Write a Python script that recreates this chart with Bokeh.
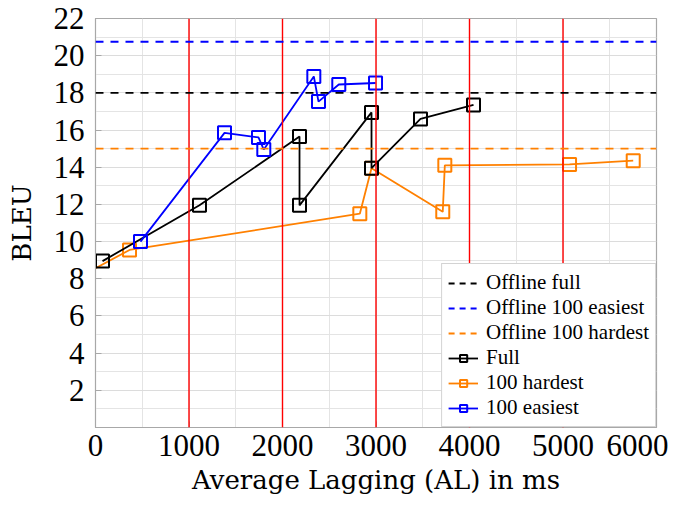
import math
from bokeh.plotting import figure
from bokeh.models import FixedTicker, Legend, LegendItem, ColumnDataSource, Range1d, Span
from bokeh.embed import file_html
from bokeh.resources import INLINE

# ---- data ----
full_al = [75, 1112, 2182, 2182, 2952, 2952, 3476, 4043]
full_bleu = [8.95, 11.95, 15.65, 11.95, 16.95, 13.95, 16.6, 17.35]

hard_al = [-250, 364, 2827, 2952, 3714, 3736, 5070, 5751]
hard_bleu = [7.9, 9.55, 11.5, 13.95, 11.6, 14.1, 14.15, 14.35]

easy_al = [481, 1380, 1743, 1800, 2335, 2385, 2602, 2995]
easy_bleu = [10.0, 15.85, 15.6, 14.95, 18.88, 17.53, 18.45, 18.53]

offline_full = 18.0
offline_easy = 20.75
offline_hard = 15.0

red_marks = [1000, 2000, 3000, 4000, 5000]

x_ticks = [0, 1000, 2000, 3000, 4000, 5000, 6000]
x_minor = [500, 1500, 2500, 3500, 4500, 5500]
y_ticks = [2, 4, 6, 8, 10, 12, 14, 16, 18, 20, 22]
y_minor = [1, 3, 5, 7, 9, 11, 13, 15, 17, 19, 21]

BLACK = "#000000"
ORANGE = "#ff8000"
BLUE = "#0000ff"
RED = "#ff0000"
TICKFONT = "Liberation Serif"
LABELFONT = "DejaVu Serif"
DASH = "8 7"
LW = 1.8

p = figure(frame_width=561, frame_height=409, min_border_left=95, min_border_right=12,
           min_border_top=18, min_border_bottom=64, output_backend="svg",
           toolbar_location=None, x_range=Range1d(0, 6000), y_range=Range1d(0, 22))

p.background_fill_color = "white"
p.border_fill_color = "white"
p.outline_line_color = "#a8a8a8"
p.outline_line_width = 1.2

p.xaxis.ticker = FixedTicker(ticks=x_ticks, minor_ticks=x_minor)
p.yaxis.ticker = FixedTicker(ticks=y_ticks, minor_ticks=y_minor)
p.xgrid.ticker = p.xaxis.ticker
p.ygrid.ticker = p.yaxis.ticker
for g in (p.xgrid, p.ygrid):
    g.grid_line_color = "#dcdcdc"
    g.grid_line_width = 1
    g.minor_grid_line_color = "#e4e4e4"
    g.minor_grid_line_width = 1

for ax in (p.xaxis, p.yaxis):
    ax.axis_line_color = "#a8a8a8"
    ax.major_tick_in = 6
    ax.major_tick_out = 0
    ax.minor_tick_in = 0
    ax.minor_tick_out = 0
    ax.major_tick_line_color = "#a8a8a8"
    ax.major_label_text_font = TICKFONT
    ax.major_label_text_font_size = "31px"
    ax.major_label_text_color = "black"
    ax.axis_label_text_font = LABELFONT
    ax.axis_label_text_font_size = "26px"
    ax.axis_label_text_font_style = "normal"
    ax.axis_label_text_color = "black"

p.xaxis.axis_label = "Average Lagging (AL) in ms"
p.yaxis.axis_label = "BLEU"
p.xaxis.major_label_standoff = 7
p.yaxis.major_label_standoff = 11
p.xaxis.axis_label_standoff = 6
p.yaxis.axis_label_standoff = 14

# red vertical lines
for xv in red_marks:
    p.add_layout(Span(location=xv, dimension="height", line_color=RED, line_width=1.4))

# offline dashed lines
for yv, c in [(offline_full, BLACK), (offline_easy, BLUE), (offline_hard, ORANGE)]:
    p.add_layout(Span(location=yv, dimension="width", line_color=c, line_width=LW,
                      line_dash=DASH))

# legend proxies for dashed lines (single NaN point, not drawn)
def proxy(c):
    src = ColumnDataSource(data=dict(x=[math.nan], y=[math.nan]))
    return p.line("x", "y", source=src, line_color=c, line_width=LW, line_dash="6 5")

lf = proxy(BLACK)
le = proxy(BLUE)
lh = proxy(ORANGE)

items = [LegendItem(label="Offline full", renderers=[lf]),
         LegendItem(label="Offline 100 easiest", renderers=[le]),
         LegendItem(label="Offline 100 hardest", renderers=[lh])]

def series(xs, ys, c):
    src = ColumnDataSource(data=dict(x=xs, y=ys))
    l = p.line("x", "y", source=src, line_color=c, line_width=LW)
    s = p.scatter("x", "y", source=src, marker="square", size=13, line_color=c,
                  line_width=2, fill_alpha=0)
    return [l, s]

r_hard = series(hard_al, hard_bleu, ORANGE)
r_full = series(full_al, full_bleu, BLACK)
r_easy = series(easy_al, easy_bleu, BLUE)

items += [LegendItem(label="Full", renderers=r_full),
          LegendItem(label="100 hardest", renderers=r_hard),
          LegendItem(label="100 easiest", renderers=r_easy)]

legend = Legend(items=items, location="bottom_right")
legend.label_text_font = TICKFONT
legend.label_text_font_size = "21px"
legend.label_text_color = "black"
legend.glyph_width = 30
legend.glyph_height = 18
legend.label_height = 18
legend.label_standoff = 8
legend.spacing = 0
legend.padding = 6
legend.margin = 0
legend.border_line_color = "#a8a8a8"
legend.border_line_width = 1.2
legend.background_fill_alpha = 1
p.add_layout(legend, "center")

open("out.html", "w").write(file_html(p, INLINE))
